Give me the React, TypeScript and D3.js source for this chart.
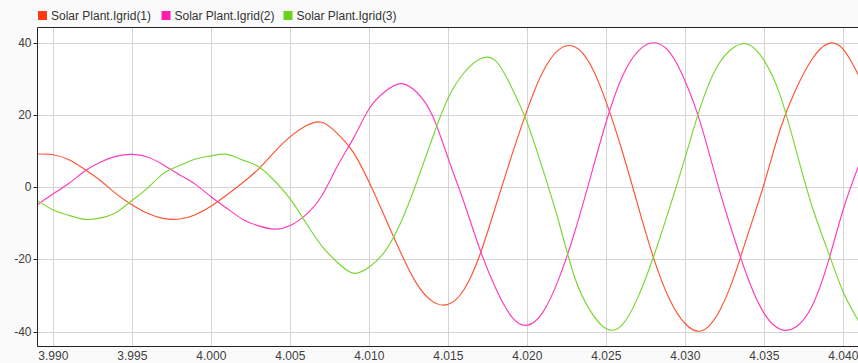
import React from "react";
import * as d3 from "d3";

const times = [3.989, 3.990, 3.991, 3.992, 3.993, 3.994, 3.995, 3.996, 3.997, 3.998, 3.999, 4.000, 4.001,
  4.002, 4.003, 4.004, 4.005, 4.006, 4.007, 4.008, 4.009, 4.010, 4.011, 4.012, 4.013,
  4.014, 4.015, 4.016, 4.017, 4.018, 4.019, 4.020, 4.021, 4.022, 4.023, 4.024, 4.025, 4.026,
  4.027, 4.028, 4.029, 4.030, 4.031, 4.032, 4.033, 4.034, 4.035, 4.036, 4.037, 4.038, 4.039, 4.040, 4.041];

const igrid1 = [9.2, 9.0, 7.6, 4.9, 1.8, -1.9, -4.9, -7.3, -8.7, -8.8, -7.6, -5.2, -2.1,
  1.3, 5.1, 9.8, 14.0, 17.0, 18.0, 14.8, 9.6, 1.3, -8.4, -18.2, -26.7,
  -31.6, -32.4, -28.3, -18.7, -5.2, 8.6, 21.5, 32.1, 38.1, 38.9, 33.9, 23.5, 10.1,
  -5.0, -19.7, -31.0, -37.8, -39.8, -35.5, -25.8, -12.5, 1.1, 16.0, 27.1, 35.3, 39.7, 38.2, 30.7];

const igrid2 = [-4.8, -1.8, 1.1, 4.5, 7.0, 8.6, 9.1, 8.3, 6.1, 3.4, 0.8, -2.7, -5.9,
  -8.9, -10.7, -11.6, -10.6, -7.6, -2.3, 6.0, 13.6, 21.8, 26.5, 28.7, 26.3,
  19.8, 7.9, -4.3, -17.2, -28.0, -35.8, -38.2, -34.5, -25.3, -12.4, 2.8, 18.2, 30.5,
  37.6, 40.0, 37.4, 29.3, 17.2, 1.6, -12.8, -25.6, -35.0, -39.3, -38.7, -33.1, -21.3, -6.1, 6.3];

const igrid3 = [-3.7, -6.3, -7.8, -8.9, -8.5, -6.9, -3.6, -0.1, 3.9, 6.0, 7.8, 8.7, 9.1,
  7.5, 5.7, 1.8, -3.3, -9.9, -16.3, -20.9, -23.8, -22.1, -17.7, -9.7, 1.4,
  13.7, 24.8, 31.7, 35.5, 35.0, 27.7, 17.8, 4.7, -9.7, -25.0, -34.3, -39.2, -38.1,
  -30.5, -19.1, -5.8, 8.4, 22.8, 33.3, 38.5, 39.5, 35.0, 25.5, 10.4, -5.0, -17.4, -29.1, -37.3];

const seriesNames = ["Solar Plant.Igrid(1)", "Solar Plant.Igrid(2)", "Solar Plant.Igrid(3)"];
const seriesValues = [igrid1, igrid2, igrid3];
const seriesColors = ["#ff3a12", "#ff1cae", "#69d11c"];
const lineColors = ["#ff5330", "#ff3cb8", "#7ad632"];

const xTicks = [3.990, 3.995, 4.000, 4.005, 4.010, 4.015, 4.020, 4.025, 4.030, 4.035, 4.040];
const yTicks = [-40, -20, 0, 20, 40];

const W = 858;
const H = 363;
const L = 37.5;
const R = 858;
const T = 27.5;
const B = 346.5;
const FONT = "'Liberation Sans', Arial, sans-serif";

export default function App() {
  const x = d3.scaleLinear().domain([3.9890, 4.04093]).range([L, R]);
  const y = d3.scaleLinear().domain([-44.1, 44.23]).range([B, T]);
  const line = d3
    .line<number>()
    .x((_, i) => x(times[i]))
    .y((d) => y(d))
    .curve(d3.curveNatural);

  const legendX = [38, 161.5, 283.5];

  return (
    <div style={{ position: "absolute", left: 0, top: 0, width: W, height: H }}>
      <svg width={W} height={H} style={{ display: "block", fontFamily: FONT }}>
        <rect x={0} y={0} width={W} height={H} fill="#fafafa" />
        <rect x={L} y={T} width={R - L} height={B - T} fill="#ffffff" />
        <defs>
          <clipPath id="plotclip">
            <rect x={L} y={T} width={R - L} height={B - T} />
          </clipPath>
        </defs>
        {xTicks.map((t) => (
          <line key={"gx" + t} x1={Math.round(x(t)) + 0.5} x2={Math.round(x(t)) + 0.5} y1={T} y2={B}
            stroke="#d4d4d4" strokeWidth={1} />
        ))}
        {yTicks.map((v) => (
          <line key={"gy" + v} x1={L} x2={R} y1={Math.round(y(v)) + 0.5} y2={Math.round(y(v)) + 0.5}
            stroke="#d4d4d4" strokeWidth={1} />
        ))}
        <g clipPath="url(#plotclip)">
          {seriesValues.map((vals, k) => (
            <path key={"s" + k} d={line(vals) || ""} fill="none" stroke={lineColors[k]} strokeWidth={1.15}
              strokeLinejoin="round" />
          ))}
        </g>
        <line x1={L} x2={R} y1={T} y2={T} stroke="#222" strokeWidth={1} />
        <line x1={L} x2={L} y1={T} y2={B} stroke="#222" strokeWidth={1} />
        <line x1={L} x2={R} y1={B} y2={B} stroke="#222" strokeWidth={1} />
        {yTicks.map((v) => (
          <g key={"ty" + v}>
            <line x1={L - 4} x2={L} y1={Math.round(y(v)) + 0.5} y2={Math.round(y(v)) + 0.5} stroke="#222" />
            <text x={L - 6} y={y(v) + 4} textAnchor="end" fontSize={12} fill="#404040">{v}</text>
          </g>
        ))}
        {xTicks.map((t) => (
          <text key={"tx" + t} x={x(t)} y={360} textAnchor="middle" fontSize={12} fill="#404040">
            {t.toFixed(3)}
          </text>
        ))}
        {seriesNames.map((name, k) => (
          <g key={"lg" + k}>
            <rect x={legendX[k]} y={11} width={9} height={9} fill={seriesColors[k]} />
            <text x={legendX[k] + 13} y={20} fontSize={12} fill="#333">{name}</text>
          </g>
        ))}
      </svg>
    </div>
  );
}
